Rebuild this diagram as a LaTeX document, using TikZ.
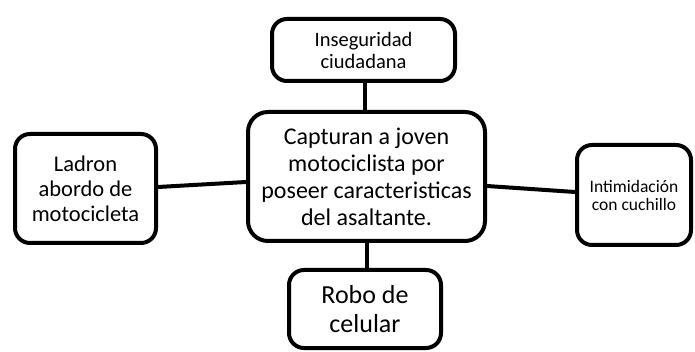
\documentclass[tikz,border=0pt]{standalone}
\usepackage{fontspec}
\setmainfont{Carlito}
\begin{document}
\begin{tikzpicture}[x=1pt,y=-1pt,
  box/.style={draw=black,line width=4pt,rounded corners=15pt,align=center,inner sep=0pt,fill=white},
  conn/.style={line width=4pt,black}]
\useasboundingbox (0,0) rectangle (695,352);
\node[box,minimum width=183pt,minimum height=62pt,font=\fontsize{20.5}{22}\selectfont] (top) at (363.5,50) {Inseguridad\\ciudadana};
\node[box,minimum width=237pt,minimum height=129pt,rounded corners=20pt,font=\fontsize{24}{27}\selectfont] (mid) at (366.5,176.5) {Capturan a joven\\motociclista por\\poseer caracteristicas\\del asaltante.};
\node[box,minimum width=141pt,minimum height=109pt,font=\fontsize{22.5}{25}\selectfont] (left) at (85.5,188.5) {Ladron\\abordo de\\motocicleta};
\node[box,minimum width=114pt,minimum height=100pt,font=\fontsize{17.5}{18}\selectfont] (right) at (634,195) {Intimidación\\con cuchillo};
\node[box,minimum width=152pt,minimum height=78pt,font=\fontsize{26}{29}\selectfont] (bot) at (365,309) {Robo de\\celular};
\draw[conn] ([xshift=1.5pt]top.south) -- ([xshift=1.5pt]top.south |- mid.north);
\draw[conn] ([xshift=0.5pt]mid.south) -- ([xshift=2pt]bot.north);
\draw[conn] ([yshift=1.5pt]left.east) -- ([yshift=-5.5pt]mid.west);
\draw[conn] ([yshift=-9.5pt]mid.east) -- ([yshift=3pt]right.west);
\end{tikzpicture}
\end{document}
